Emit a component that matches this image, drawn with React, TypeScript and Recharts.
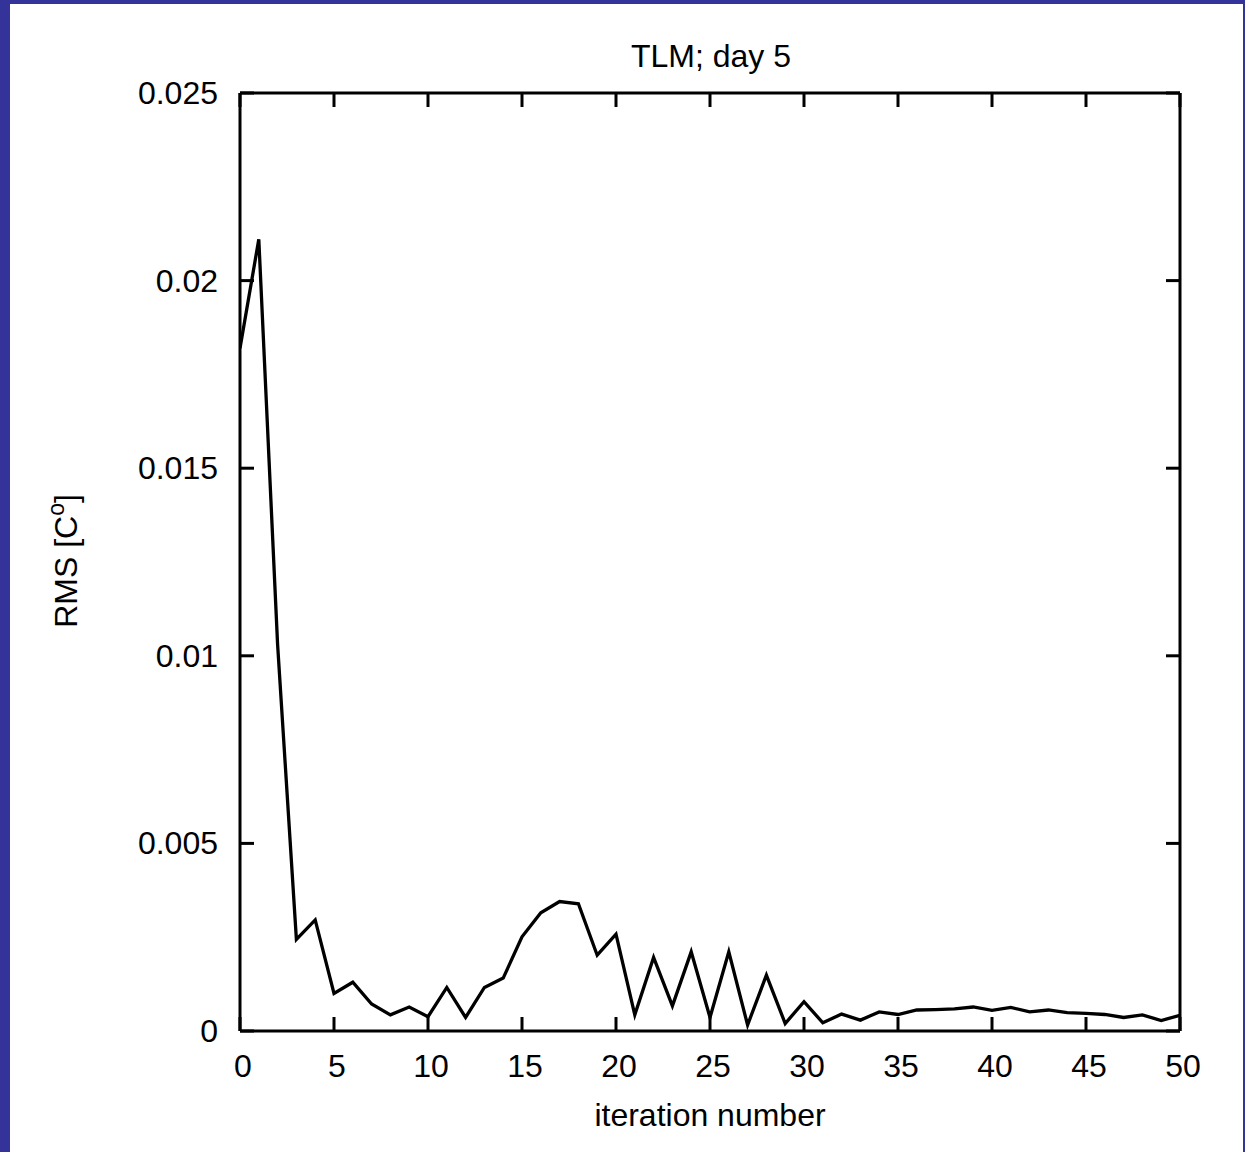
import React from "react";
import { LineChart, Line, XAxis, YAxis, ReferenceLine } from "recharts";

const iterations: number[] = Array.from({ length: 51 }, (_, i) => i);
const rmsValues: number[] = [
  0.0182, 0.0211, 0.0103, 0.00244, 0.00296, 0.001, 0.0013, 0.00072, 0.00043, 0.00064,
  0.00038, 0.00116, 0.00036, 0.00116, 0.00141, 0.00251, 0.00315, 0.00345, 0.00339, 0.00202,
  0.00258, 0.00043, 0.00196, 0.00067, 0.00211, 0.00036, 0.00211, 0.00016, 0.00149, 0.0002,
  0.00078, 0.00022, 0.00045, 0.00029, 0.00051, 0.00044, 0.00056, 0.00057, 0.00059, 0.00064,
  0.00055, 0.00063, 0.00051, 0.00056, 0.00049, 0.00047, 0.00044, 0.00036, 0.00043, 0.00028,
  0.00042,
];
const xTicks: number[] = [0, 5, 10, 15, 20, 25, 30, 35, 40, 45, 50];
const yTicks: number[] = [0, 0.005, 0.01, 0.015, 0.02, 0.025];
const yTickLabels: string[] = ["0", "0.005", "0.01", "0.015", "0.02", "0.025"];
const title = "TLM; day 5";
const xLabel = "iteration number";

const data = iterations.map((x, i) => ({ x, rms: rmsValues[i] }));

const W = 1245;
const H = 1152;
const YAXIS_W = 60;
const XAXIS_H = 60;
const M = { top: 93, right: 65, bottom: 121 - XAXIS_H, left: 240 - YAXIS_W };
const PLOT_W = W - 240 - M.right;
const PLOT_H = H - M.top - 121;
const TICK = 14;
const FONT = "'Liberation Sans', Arial, Helvetica, sans-serif";
const FS = 32;

const XTick = (props: any) => {
  const { x, y, payload } = props;
  return (
    <g>
      <line x1={x} y1={y} x2={x} y2={y - TICK} stroke="#000" strokeWidth={3} />
      <line x1={x} y1={y - PLOT_H} x2={x} y2={y - PLOT_H + TICK} stroke="#000" strokeWidth={3} />
      <text x={x + 3} y={y + 46} textAnchor="middle" fontFamily={FONT} fontSize={FS} fill="#000">
        {payload.value}
      </text>
    </g>
  );
};

const YTick = (props: any) => {
  const { x, y, payload } = props;
  const idx = yTicks.indexOf(payload.value);
  const label = idx >= 0 ? yTickLabels[idx] : String(payload.value);
  return (
    <g>
      <line x1={x} y1={y} x2={x + TICK} y2={y} stroke="#000" strokeWidth={3} />
      <line x1={x + PLOT_W} y1={y} x2={x + PLOT_W - TICK} y2={y} stroke="#000" strokeWidth={3} />
      <text x={x - 22} y={y + 11} textAnchor="end" fontFamily={FONT} fontSize={FS} fill="#000">
        {label}
      </text>
    </g>
  );
};

export default function App() {
  return (
    <div style={{ position: "absolute", left: 0, top: 0, width: W, height: H, background: "#333399" }}>
      <div style={{ position: "absolute", left: 10, top: 4, width: W - 12, height: H - 4, background: "#fff" }} />
      <div style={{ position: "absolute", left: 0, top: 0 }}>
        <LineChart width={W} height={H} data={data} margin={M}>
          <XAxis
            dataKey="x"
            type="number"
            domain={[0, 50]}
            ticks={xTicks}
            height={XAXIS_H}
            tickSize={0}
            tickMargin={0}
            tickLine={false}
            axisLine={{ stroke: "#000", strokeWidth: 3 }}
            tick={XTick}
            interval={0}
            allowDataOverflow
          />
          <YAxis
            type="number"
            domain={[0, 0.025]}
            ticks={yTicks}
            width={YAXIS_W}
            tickSize={0}
            tickMargin={0}
            tickLine={false}
            axisLine={{ stroke: "#000", strokeWidth: 3 }}
            tick={YTick}
            interval={0}
            allowDataOverflow
          />
          <ReferenceLine y={0.025} stroke="#000" strokeWidth={3} />
          <ReferenceLine x={50} stroke="#000" strokeWidth={3} />
          <Line
            dataKey="rms"
            type="linear"
            stroke="#000"
            strokeWidth={3.3}
            dot={false}
            isAnimationActive={false}
          />
        </LineChart>
      </div>
      <svg
        width={W}
        height={H}
        style={{ position: "absolute", left: 0, top: 0, pointerEvents: "none" }}
      >
        <text x={711} y={67} textAnchor="middle" fontFamily={FONT} fontSize={FS} fill="#000">
          {title}
        </text>
        <text x={710} y={1126} textAnchor="middle" fontFamily={FONT} fontSize={FS} fill="#000">
          {xLabel}
        </text>
        <text
          transform="translate(77,561) rotate(-90)"
          textAnchor="middle"
          fontFamily={FONT}
          fontSize={FS}
          fill="#000"
        >
          RMS [C
          <tspan dy={-13} fontSize={23}>o</tspan>
          <tspan dy={13}>]</tspan>
        </text>
      </svg>
    </div>
  );
}
